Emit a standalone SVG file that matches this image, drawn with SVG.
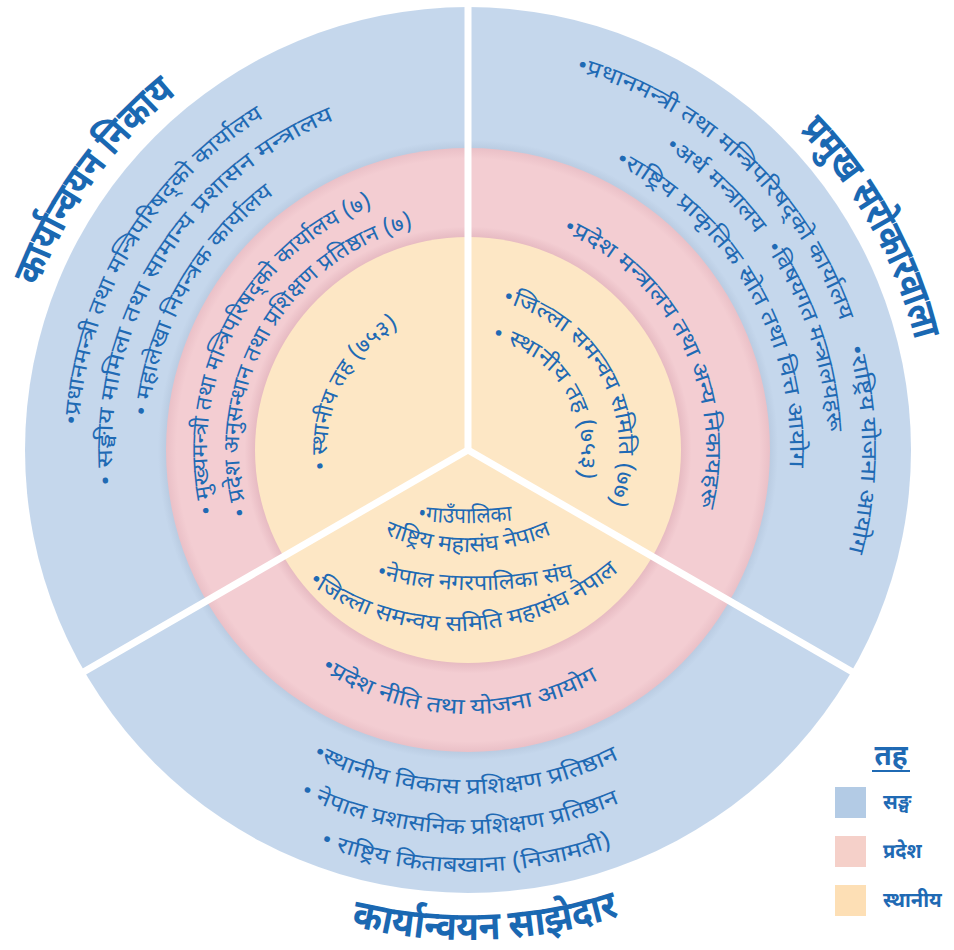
<svg xmlns="http://www.w3.org/2000/svg" width="954" height="950" viewBox="0 0 954 950">
<style>
.t{font-family:'Noto Sans Devanagari','Noto Sans','Lohit Devanagari','Mukta',sans-serif;fill:#1F6AB4;font-size:22px}
.h{font-weight:bold;font-size:40px;fill:#1A68B2}
.lg{font-weight:bold;font-size:20px}
.lt{font-weight:bold;font-size:28px}
</style>
<defs>
<radialGradient id="gB" gradientUnits="userSpaceOnUse" cx="468" cy="450" r="443">
<stop offset="0" stop-color="#C5D7EC"/><stop offset="0.68" stop-color="#B9CBE1"/><stop offset="0.70" stop-color="#C5D7EC"/><stop offset="1" stop-color="#C5D7EC"/>
</radialGradient>
<radialGradient id="gP" gradientUnits="userSpaceOnUse" cx="468" cy="450" r="302">
<stop offset="0" stop-color="#F3CDD2"/><stop offset="0.70" stop-color="#E5B8C0"/><stop offset="0.74" stop-color="#F3CDD2"/><stop offset="0.965" stop-color="#F3CDD2"/><stop offset="1" stop-color="#EAC0C7"/>
</radialGradient>
<path id="c390" d="M468,840 A390,390 0 1 1 468,60 A390,390 0 1 1 468,840"/>
<path id="c356" d="M468,806 A356,356 0 1 1 468,94 A356,356 0 1 1 468,806"/>
<path id="c321" d="M468,771 A321,321 0 1 1 468,129 A321,321 0 1 1 468,771"/>
<path id="c261" d="M468,711 A261,261 0 1 1 468,189 A261,261 0 1 1 468,711"/>
<path id="c229" d="M468,679 A229,229 0 1 1 468,221 A229,229 0 1 1 468,679"/>
<path id="c141" d="M468,591 A141,141 0 1 1 468,309 A141,141 0 1 1 468,591"/>
<path id="c394" d="M468,844 A394,394 0 1 1 468,56 A394,394 0 1 1 468,844"/>
<path id="c360" d="M468,810 A360,360 0 1 1 468,90 A360,360 0 1 1 468,810"/>
<path id="c322" d="M468,772 A322,322 0 1 1 468,128 A322,322 0 1 1 468,772"/>
<path id="c238" d="M468,688 A238,238 0 1 1 468,212 A238,238 0 1 1 468,688"/>
<path id="c151" d="M468,601 A151,151 0 1 1 468,299 A151,151 0 1 1 468,601"/>
<path id="c113" d="M468,563 A113,113 0 1 1 468,337 A113,113 0 1 1 468,563"/>
<path id="c460" d="M468,910 A460,460 0 1 1 468,-10 A460,460 0 1 1 468,910"/>
<path id="b264" d="M204,450 A264,264 0 0 0 732,450"/>
<path id="b344" d="M124,450 A344,344 0 0 0 812,450"/>
<path id="b384" d="M84,450 A384,384 0 0 0 852,450"/>
<path id="b422" d="M46,450 A422,422 0 0 0 890,450"/>
<path id="b490" d="M43.6,695 A490,490 0 0 0 892.4,695"/>
<path id="y1" d="M380,514 A400,400 0 0 0 550,514"/>
<path id="y2" d="M318,486.7 A205,205 0 0 0 618,486.7"/>
<path id="y3" d="M325,561 A400,400 0 0 0 625,561"/>
<path id="y4" d="M238.6,505.5 A251,251 0 0 0 673.4,505.5"/>
</defs>
<rect width="954" height="950" fill="#fff"/>
<g id="rings">
<circle id="ring-sangh" cx="468" cy="450" r="443" fill="url(#gB)"/>
<circle id="ring-pradesh" cx="468" cy="450" r="302" fill="url(#gP)"/>
<circle id="ring-sthaniya" cx="468" cy="450" r="213" fill="#FDE7C5"/>
</g>
<g id="connectors" stroke="#fff" stroke-width="7">
<line x1="468" y1="450" x2="468" y2="0"/>
<line x1="468" y1="450" x2="80" y2="674"/>
<line x1="468" y1="450" x2="856" y2="674"/>
</g>
<g id="sector-left" class="t">
<text class="h"><textPath href="#c460" startOffset="1009.6" text-anchor="middle" textLength="240" lengthAdjust="spacingAndGlyphs">कार्यान्वयन निकाय</textPath></text>
<text><textPath href="#c390" startOffset="823.6" text-anchor="middle" textLength="373" lengthAdjust="spacingAndGlyphs">•प्रधानमन्त्री तथा मन्त्रिपरिषद्को कार्यालय</textPath></text>
<text><textPath href="#c356" startOffset="752.4" text-anchor="middle" textLength="457" lengthAdjust="spacingAndGlyphs">• सङ्घीय मामिला तथा सामान्य प्रशासन मन्त्रालय</textPath></text>
<text><textPath href="#c321" startOffset="668.9" text-anchor="middle" textLength="262" lengthAdjust="spacingAndGlyphs">• महालेखा नियन्त्रक कार्यालय</textPath></text>
<text><textPath href="#c261" startOffset="534.3" text-anchor="middle" textLength="376" lengthAdjust="spacingAndGlyphs">• मुख्यमन्त्री तथा मन्त्रिपरिषद्को कार्यालय (७)</textPath></text>
<text><textPath href="#c229" startOffset="478.8" text-anchor="middle" textLength="370" lengthAdjust="spacingAndGlyphs">• प्रदेश अनुसन्धान तथा प्रशिक्षण प्रतिष्ठान (७)</textPath></text>
<text><textPath href="#c141" startOffset="286.2" text-anchor="middle" textLength="169" lengthAdjust="spacingAndGlyphs">• स्थानीय तह (७५३)</textPath></text>
</g>
<g id="sector-right" class="t">
<text class="h"><textPath href="#c460" startOffset="1936" text-anchor="middle" textLength="242" lengthAdjust="spacingAndGlyphs">प्रमुख सरोकारवाला</textPath></text>
<text><textPath href="#c394" startOffset="1535.5" text-anchor="middle" textLength="378" lengthAdjust="spacingAndGlyphs">•प्रधानमन्त्री तथा मन्त्रिपरिषद्को कार्यालय</textPath></text>
<text><textPath href="#c394" startOffset="1855.3" text-anchor="middle" textLength="207" lengthAdjust="spacingAndGlyphs">•राष्ट्रिय योजना आयोग</textPath></text>
<text><textPath href="#c360" startOffset="1401.2" text-anchor="middle" textLength="126" lengthAdjust="spacingAndGlyphs">•अर्थ मन्त्रालय</textPath></text>
<text><textPath href="#c360" startOffset="1579" text-anchor="middle" textLength="197" lengthAdjust="spacingAndGlyphs">•विषयगत मन्त्रालयहरू</textPath></text>
<text><textPath href="#c322" startOffset="1348.8" text-anchor="middle" textLength="371" lengthAdjust="spacingAndGlyphs">•राष्ट्रिय प्राकृतिक स्रोत तथा वित्त आयोग</textPath></text>
<text><textPath href="#c238" startOffset="1011.5" text-anchor="middle" textLength="334" lengthAdjust="spacingAndGlyphs">•प्रदेश मन्त्रालय तथा अन्य निकायहरू</textPath></text>
<text><textPath href="#c151" startOffset="637.8" text-anchor="middle" textLength="258" lengthAdjust="spacingAndGlyphs">•जिल्ला समन्वय समिति (७७)</textPath></text>
<text><textPath href="#c113" startOffset="469.2" text-anchor="middle" textLength="181" lengthAdjust="spacingAndGlyphs">• स्थानीय तह (७५३)</textPath></text>
</g>
<g id="sector-bottom" class="t">
<text class="h"><textPath href="#b490" startOffset="531.1" text-anchor="middle" textLength="272" lengthAdjust="spacingAndGlyphs">कार्यान्वयन साझेदार</textPath></text>
<text><textPath href="#b264" startOffset="404.5" text-anchor="middle" textLength="293" lengthAdjust="spacingAndGlyphs">•प्रदेश नीति तथा योजना आयोग</textPath></text>
<text><textPath href="#b344" startOffset="537.4" text-anchor="middle" textLength="318" lengthAdjust="spacingAndGlyphs">•स्थानीय विकास प्रशिक्षण प्रतिष्ठान</textPath></text>
<text><textPath href="#b384" startOffset="593.8" text-anchor="middle" textLength="330" lengthAdjust="spacingAndGlyphs">• नेपाल प्रशासनिक प्रशिक्षण प्रतिष्ठान</textPath></text>
<text><textPath href="#b422" startOffset="660.7" text-anchor="middle" textLength="299" lengthAdjust="spacingAndGlyphs">• राष्ट्रिय किताबखाना (निजामती)</textPath></text>
<text><textPath href="#y1" startOffset="50%" text-anchor="middle" textLength="95" lengthAdjust="spacingAndGlyphs">•गाउँपालिका</textPath></text>
<text><textPath href="#y2" startOffset="50%" text-anchor="middle" textLength="172" lengthAdjust="spacingAndGlyphs">राष्ट्रिय महासंघ नेपाल</textPath></text>
<text><textPath href="#y3" startOffset="50%" text-anchor="middle" textLength="200" lengthAdjust="spacingAndGlyphs">•नेपाल नगरपालिका संघ</textPath></text>
<text><textPath href="#y4" startOffset="272" text-anchor="middle" textLength="335" lengthAdjust="spacingAndGlyphs">•जिल्ला समन्वय समिति महासंघ नेपाल</textPath></text>
</g>
<g id="legend" class="t">
<text class="lt" x="891" y="765" text-anchor="middle">तह</text>
<line x1="872" y1="771" x2="910" y2="771" stroke="#1F6AB4" stroke-width="2"/>
<g id="legend-sangh"><rect x="835" y="787" width="31" height="31" fill="#B3CBE5"/><text class="lg" x="883" y="809">सङ्घ</text></g>
<g id="legend-pradesh"><rect x="835" y="836" width="31" height="31" fill="#F5D0C9"/><text class="lg" x="883" y="858">प्रदेश</text></g>
<g id="legend-sthaniya"><rect x="835" y="885" width="31" height="31" fill="#FDDFB5"/><text class="lg" x="883" y="907">स्थानीय</text></g>
</g>
</svg>
